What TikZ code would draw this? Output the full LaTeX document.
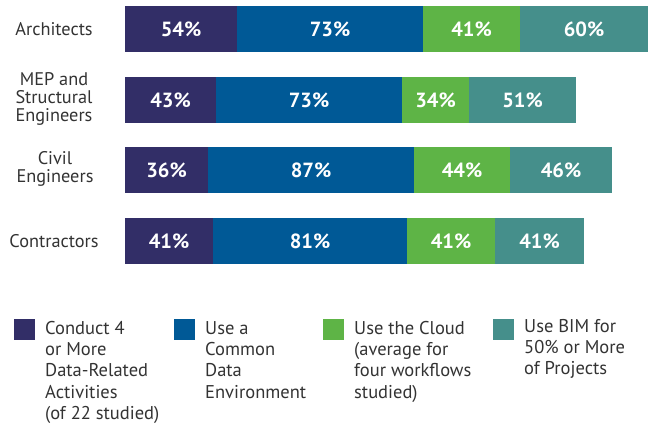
\documentclass[tikz,border=0pt]{standalone}
\usepackage{fontspec}
\setmainfont{PT Sans}
\usetikzlibrary{positioning}

\definecolor{cdark}{RGB}{50,46,103}
\definecolor{cblue}{RGB}{0,89,150}
\definecolor{cgreen}{RGB}{94,180,70}
\definecolor{cteal}{RGB}{69,143,139}
\definecolor{ctext}{RGB}{51,51,51}

\tikzset{
	seg/.style={rectangle, minimum height=46pt, inner sep=0pt, outer sep=0pt, text=white,
		font=\fontsize{20.5}{20.5}\selectfont\bfseries},
	rowlabel/.style={align=center, text=ctext, inner sep=0pt, font=\fontsize{18.3}{18}\selectfont},
	keybox/.style={rectangle, minimum size=21pt, inner sep=0pt, outer sep=0pt},
	keytext/.style={anchor=north west, align=left, text=ctext, inner sep=0pt,
		font=\fontsize{18.5}{21.3}\selectfont}
}

\begin{document}
\begin{tikzpicture}[x=1pt, y=-1pt]

\path [use as bounding box] (0,0) rectangle (649,425);

% ROW LABELS
\node [rowlabel] (arch) at (54,29) {Architects};
\node [rowlabel] (mep) at (54,99) {MEP and\\Structural\\Engineers};
\node [rowlabel] (civil) at (55,169) {Civil\\Engineers};
\node [rowlabel] (contr) at (54,241) {Contractors};

% ARCHITECTS
\node [seg, fill=cdark, minimum width=112pt, anchor=west] (a1) at (125,29) {54\%};
\node [seg, fill=cblue, minimum width=186pt, right=0pt of a1] (a2) {73\%};
\node [seg, fill=cgreen, minimum width=97pt, right=0pt of a2] (a3) {41\%};
\node [seg, fill=cteal, minimum width=128pt, right=0pt of a3] (a4) {60\%};

% MEP AND STRUCTURAL
\node [seg, fill=cdark, minimum width=91pt, anchor=west] (m1) at (125,100) {43\%};
\node [seg, fill=cblue, minimum width=186pt, right=0pt of m1] (m2) {73\%};
\node [seg, fill=cgreen, minimum width=67pt, right=0pt of m2] (m3) {34\%};
\node [seg, fill=cteal, minimum width=107pt, right=0pt of m3] (m4) {51\%};

% CIVIL
\node [seg, fill=cdark, minimum width=83pt, anchor=west] (c1) at (125,170) {36\%};
\node [seg, fill=cblue, minimum width=206pt, right=0pt of c1] (c2) {87\%};
\node [seg, fill=cgreen, minimum width=96pt, right=0pt of c2] (c3) {44\%};
\node [seg, fill=cteal, minimum width=102pt, right=0pt of c3] (c4) {46\%};

% CONTRACTORS
\node [seg, fill=cdark, minimum width=88pt, anchor=west] (k1) at (125,241) {41\%};
\node [seg, fill=cblue, minimum width=194pt, right=0pt of k1] (k2) {81\%};
\node [seg, fill=cgreen, minimum width=88pt, right=0pt of k2] (k3) {41\%};
\node [seg, fill=cteal, minimum width=89pt, right=0pt of k3] (k4) {41\%};

% LEGEND
\node [keybox, fill=cdark] (l1) at (24.5,329.5) {};
\node [keybox, fill=cblue] (l2) at (184.5,329.5) {};
\node [keybox, fill=cgreen] (l3) at (333.5,329.5) {};
\node [keybox, fill=cteal] (l4) at (503.5,329.5) {};
\node [keytext] (t1) at (45,321) {Conduct 4\\or More\\Data-Related\\Activities\\(of 22 studied)};
\node [keytext] (t2) at (205,321) {Use a\\Common\\Data\\Environment};
\node [keytext] (t3) at (354,321) {Use the Cloud\\(average for\\four workflows\\studied)};
\node [keytext] (t4) at (524,319) {Use BIM for\\50\% or More\\of Projects};

\end{tikzpicture}
\end{document}
